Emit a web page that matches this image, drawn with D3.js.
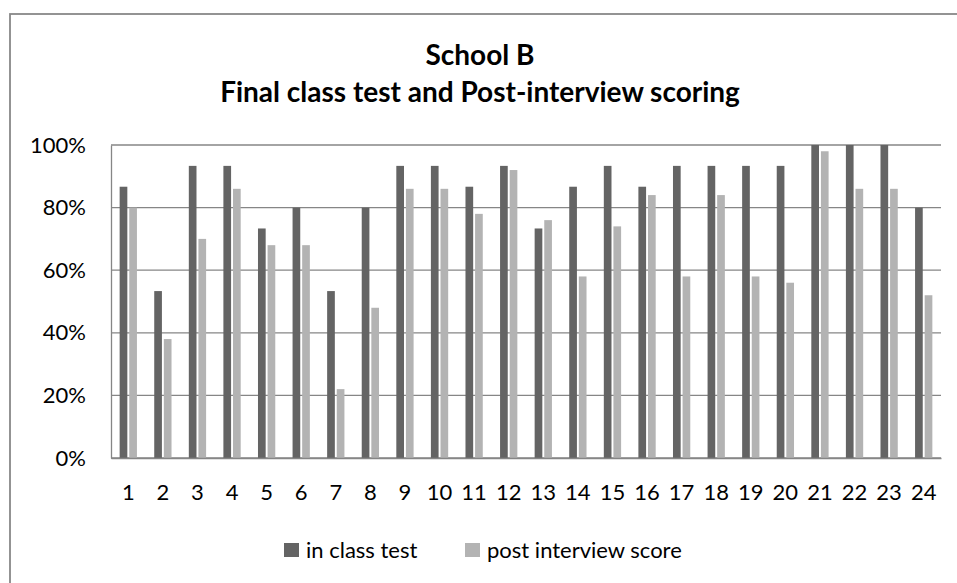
<!DOCTYPE html>
<html>
<head>
<meta charset="utf-8">
<script src="https://cdn.jsdelivr.net/npm/d3@7"></script>
<style>
  html, body { margin: 0; padding: 0; background: #fff; }
  svg { display: block; }
</style>
</head>
<body>
<svg id="chart" width="957" height="583"></svg>
<script>
const categories = ["1","2","3","4","5","6","7","8","9","10","11","12","13","14","15","16","17","18","19","20","21","22","23","24"];
const seriesNames = ["in class test", "post interview score"];
const inClassTest = [86.67, 53.33, 93.33, 93.33, 73.33, 80, 53.33, 80, 93.33, 93.33, 86.67, 93.33, 73.33, 86.67, 93.33, 86.67, 93.33, 93.33, 93.33, 93.33, 100, 100, 100, 80];
const postInterview = [80, 38, 70, 86, 68, 68, 22, 48, 86, 86, 78, 92, 76, 58, 74, 84, 58, 84, 58, 56, 98, 86, 86, 52];
const yTicks = [0, 20, 40, 60, 80, 100];
const titleLines = ["School B", "Final class test and Post-interview scoring"];

const seriesColors = { "in class test": "#646464", "post interview score": "#b3b3b3" };
const font = "Lato, 'Open Sans', sans-serif";

const svg = d3.select("#chart");
const plot = { left: 111, right: 941, top: 145, bottom: 458 };

// outer chart frame (runs off the right and bottom edges)
svg.append("rect")
  .attr("x", 10).attr("y", 14)
  .attr("width", 1000).attr("height", 1000)
  .attr("fill", "none").attr("stroke", "#888").attr("stroke-width", 1.8);

// title
svg.append("g").selectAll("text")
  .data(titleLines)
  .join("text")
  .attr("x", 480)
  .attr("y", (d, i) => 65 + i * 37)
  .attr("text-anchor", "middle")
  .attr("font-family", font)
  .attr("font-weight", 700)
  .attr("font-size", 28)
  .attr("fill", "#000")
  .text((d) => d);

const x0 = d3.scaleBand()
  .domain(categories)
  .range([plot.left, plot.right])
  .paddingInner(0.5)
  .paddingOuter(0.25);

const x1 = d3.scaleBand()
  .domain(seriesNames)
  .range([0, x0.bandwidth()])
  .paddingInner(0.2);

const y = d3.scaleLinear().domain([0, 100]).range([plot.bottom, plot.top]);

// gridlines
svg.append("g")
  .selectAll("line")
  .data(yTicks)
  .join("line")
  .attr("x1", plot.left).attr("x2", plot.right)
  .attr("y1", (d) => y(d)).attr("y2", (d) => y(d))
  .attr("stroke", "#868686").attr("stroke-width", 1.3);

// y axis labels
const yAxis = d3.axisLeft(y).tickValues(yTicks).tickFormat((d) => d + "%").tickSize(0).tickPadding(25);
svg.append("g")
  .attr("transform", `translate(${plot.left},0)`)
  .call(yAxis)
  .call((g) => g.select(".domain").attr("stroke", "#868686").attr("stroke-width", 1.3))
  .call((g) => g.selectAll("text").attr("font-family", font).attr("font-size", 22).attr("fill", "#000"));

// bars
const rows = categories.map((c, i) => ({
  cat: c,
  values: [
    { key: seriesNames[0], value: inClassTest[i] },
    { key: seriesNames[1], value: postInterview[i] },
  ],
}));

svg.append("g")
  .selectAll("g")
  .data(rows)
  .join("g")
  .attr("transform", (d) => `translate(${x0(d.cat)},0)`)
  .selectAll("rect")
  .data((d) => d.values)
  .join("rect")
  .attr("x", (d) => x1(d.key))
  .attr("y", (d) => y(d.value))
  .attr("width", x1.bandwidth())
  .attr("height", (d) => y(0) - y(d.value))
  .attr("fill", (d) => seriesColors[d.key]);

// x axis
const xAxis = d3.axisBottom(x0.copy().paddingInner(0).paddingOuter(0)).tickSize(0).tickPadding(26);
svg.append("g")
  .attr("transform", `translate(0,${plot.bottom})`)
  .call(xAxis)
  .call((g) => g.select(".domain").attr("stroke", "#868686").attr("stroke-width", 1.3))
  .call((g) => g.selectAll("text").attr("font-family", font).attr("font-size", 22).attr("fill", "#000"));

// legend
const legendItems = [
  { label: seriesNames[0], x: 284 },
  { label: seriesNames[1], x: 465 },
];
const legend = svg.append("g");
legendItems.forEach((item) => {
  const g = legend.append("g").attr("transform", `translate(${item.x},543)`);
  g.append("rect").attr("width", 15).attr("height", 14).attr("fill", seriesColors[item.label]);
  g.append("text")
    .attr("x", 22).attr("y", 14.5)
    .attr("font-family", font).attr("font-size", 22).attr("fill", "#000")
    .text(item.label);
});
</script>
</body>
</html>
